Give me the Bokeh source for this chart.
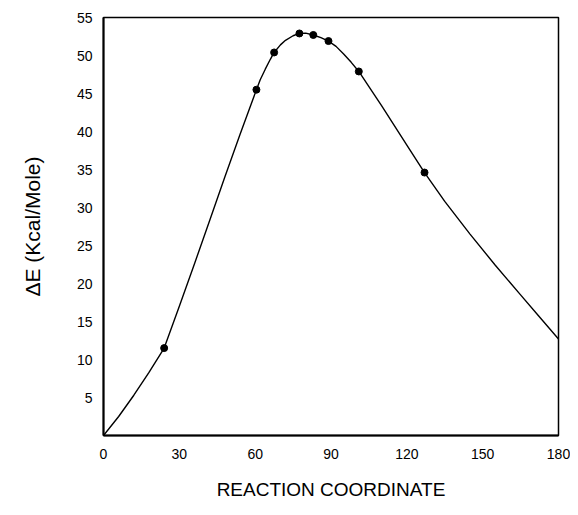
from bokeh.plotting import figure
from bokeh.models import FixedTicker, Range1d
from bokeh.embed import file_html
from bokeh.resources import INLINE

# curve
curve_x = [0, 6, 12, 18, 24, 30, 36, 42, 48, 54, 60.5, 62, 64, 66, 67.5, 70, 72, 75, 77.5, 80, 83, 86, 89, 92, 95, 98, 101,
           105, 110, 115, 120, 127, 135, 145, 155, 165, 172, 180]
curve_y = [0, 2.5, 5.3, 8.3, 11.5, 17.0, 22.6, 28.3, 34.0, 39.6, 45.5, 46.8, 48.2, 49.5, 50.4, 51.4, 52.0, 52.6, 52.9, 52.95, 52.7, 52.35, 51.9, 51.2, 50.2, 49.1, 47.9,
           45.9, 43.4, 40.8, 38.2, 34.6, 30.8, 26.5, 22.4, 18.5, 15.8, 12.7]

# computed points (markers)
pt_x = [24, 60.5, 67.5, 77.5, 83, 89, 101, 127]
pt_y = [11.5, 45.5, 50.4, 52.9, 52.7, 51.9, 47.9, 34.6]

x_ticks = [0, 30, 60, 90, 120, 150, 180]
y_ticks = [5, 10, 15, 20, 25, 30, 35, 40, 45, 50, 55]

FONT = "Liberation Sans"

p = figure(width=570, height=507, output_backend="svg", toolbar_location=None,
           x_range=Range1d(0, 180), y_range=Range1d(0, 55),
           min_border_left=103, min_border_right=12, min_border_top=17, min_border_bottom=72)

p.line(curve_x, curve_y, line_color="black", line_width=1.4, line_join="round")
p.scatter(pt_x, pt_y, size=7, fill_color="black", line_color="black")

p.grid.visible = False
p.outline_line_color = "black"
p.outline_line_width = 1.5

for ax in (p.xaxis[0], p.yaxis[0]):
    ax.axis_line_color = "black"
    ax.axis_line_width = 2
    ax.major_tick_line_color = None
    ax.minor_tick_line_color = None
    ax.major_label_text_font = FONT
    ax.major_label_text_font_size = "14px"
    ax.major_label_text_color = "black"
    ax.axis_label_text_font = FONT
    ax.axis_label_text_font_style = "normal"
    ax.axis_label_text_color = "black"

p.xaxis.ticker = FixedTicker(ticks=x_ticks)
p.yaxis.ticker = FixedTicker(ticks=y_ticks)
p.xaxis.major_label_standoff = 7
p.yaxis.major_label_standoff = 5
p.xaxis.axis_label = "REACTION COORDINATE"
p.yaxis.axis_label = "ΔE (Kcal/Mole)"
p.xaxis.axis_label_text_font_size = "19px"
p.yaxis.axis_label_text_font_size = "21px"
p.xaxis.axis_label_standoff = 17
p.yaxis.axis_label_standoff = 30

open("out.html", "w").write(file_html(p, INLINE))
